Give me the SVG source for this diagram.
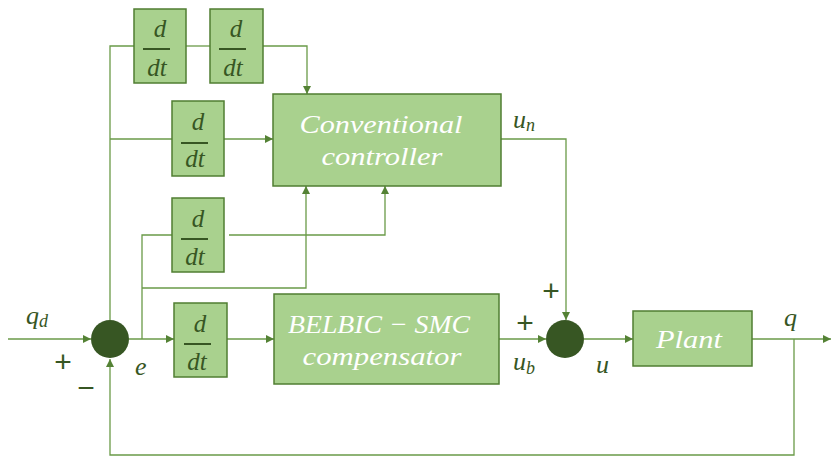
<svg xmlns="http://www.w3.org/2000/svg" width="832" height="456" viewBox="0 0 832 456">
<style>
.box{fill:#a9d18e;stroke:#507e32;stroke-width:1.5}
.ln{fill:none;stroke:#6a9a48;stroke-width:1.3}
.sum{fill:#375623}
.dd{font-family:"Liberation Serif",serif;font-style:italic;font-size:25px;fill:#375623;text-anchor:middle}
.bar{stroke:#375623;stroke-width:2}
.wt{font-family:"Liberation Serif",serif;font-style:italic;font-size:26px;fill:#ffffff;text-anchor:middle}
.lb{font-family:"Liberation Serif",serif;font-style:italic;font-size:26px;fill:#375623}
.sb{font-size:18px}
.sg{font-family:"Liberation Sans",sans-serif;font-size:30px;fill:#375623;text-anchor:middle}
</style>
<defs>
<marker id="ar" viewBox="0 0 10 10" refX="10" refY="5" markerWidth="8" markerHeight="8" markerUnits="userSpaceOnUse" orient="auto">
<path d="M0,0 L10,5 L0,10 z" fill="#548235"/>
</marker>
</defs>
<g id="connectors">
<path class="ln" d="M110,320 V46 H134"/>
<path class="ln" d="M186,46 H210"/>
<path class="ln" d="M263,46 H307 V94" marker-end="url(#ar)"/>
<path class="ln" d="M110,139 H172"/>
<path class="ln" d="M224,139 H273" marker-end="url(#ar)"/>
<path class="ln" d="M129,339 H174" marker-end="url(#ar)"/>
<path class="ln" d="M142,339 V235 H172"/>
<path class="ln" d="M229,235 H385 V186" marker-end="url(#ar)"/>
<path class="ln" d="M142,288 H306 V186" marker-end="url(#ar)"/>
<path class="ln" d="M8,339 H91" marker-end="url(#ar)"/>
<path class="ln" d="M227,339 H274" marker-end="url(#ar)"/>
<path class="ln" d="M499,339 H546" marker-end="url(#ar)"/>
<path class="ln" d="M501,139 H566 V320" marker-end="url(#ar)"/>
<path class="ln" d="M584,339 H633" marker-end="url(#ar)"/>
<path class="ln" d="M752,339 H831" marker-end="url(#ar)"/>
<path class="ln" d="M794,339 V455 H110 V359" marker-end="url(#ar)"/>
</g>
<g id="dt1"><rect class="box" x="134" y="9" width="52" height="74"/><text class="dd" x="160" y="37">d</text><line class="bar" x1="143" y1="49" x2="170" y2="49"/><text class="dd" x="157" y="76">dt</text></g>
<g id="dt2"><rect class="box" x="210" y="9" width="53" height="74"/><text class="dd" x="236" y="37">d</text><line class="bar" x1="219" y1="49" x2="246" y2="49"/><text class="dd" x="233" y="76">dt</text></g>
<g id="dt3"><rect class="box" x="172" y="101" width="52" height="75"/><text class="dd" x="198" y="130">d</text><line class="bar" x1="181" y1="143" x2="208" y2="143"/><text class="dd" x="195" y="167">dt</text></g>
<g id="dt4"><rect class="box" x="172" y="198" width="52" height="74"/><text class="dd" x="198" y="227">d</text><line class="bar" x1="181" y1="239" x2="208" y2="239"/><text class="dd" x="195" y="265">dt</text></g>
<g id="dt5"><rect class="box" x="174" y="303" width="53" height="74"/><text class="dd" x="200" y="332">d</text><line class="bar" x1="184" y1="344" x2="211" y2="344"/><text class="dd" x="197" y="370">dt</text></g>
<g id="conventional"><rect class="box" x="273" y="94" width="228" height="92"/><text class="wt" x="381" y="133" textLength="163" lengthAdjust="spacingAndGlyphs">Conventional</text><text class="wt" x="382" y="165" textLength="121" lengthAdjust="spacingAndGlyphs">controller</text></g>
<g id="belbic"><rect class="box" x="274" y="294" width="225" height="90"/><text class="wt" x="379" y="333" textLength="182" lengthAdjust="spacingAndGlyphs">BELBIC − SMC</text><text class="wt" x="382" y="365" textLength="159" lengthAdjust="spacingAndGlyphs">compensator</text></g>
<g id="plant"><rect class="box" x="633" y="311" width="119" height="55"/><text class="wt" x="689" y="348" textLength="66" lengthAdjust="spacingAndGlyphs">Plant</text></g>
<g id="sum1"><circle class="sum" cx="110" cy="339" r="19"/></g>
<g id="sum2"><circle class="sum" cx="565" cy="339" r="19"/></g>
<g id="labels">
<text class="lb" x="26" y="324">q<tspan class="sb" dy="3">d</tspan></text>
<text class="sg" x="63" y="372">+</text>
<text class="sg" x="86" y="398">−</text>
<text class="lb" x="135" y="375">e</text>
<text class="lb" x="513" y="128">u<tspan class="sb" dy="3">n</tspan></text>
<text class="sg" x="525" y="333">+</text>
<text class="sg" x="551" y="301">+</text>
<text class="lb" x="513" y="370">u<tspan class="sb" dy="4">b</tspan></text>
<text class="lb" x="596" y="373">u</text>
<text class="lb" x="784" y="326">q</text>
</g>
</svg>
